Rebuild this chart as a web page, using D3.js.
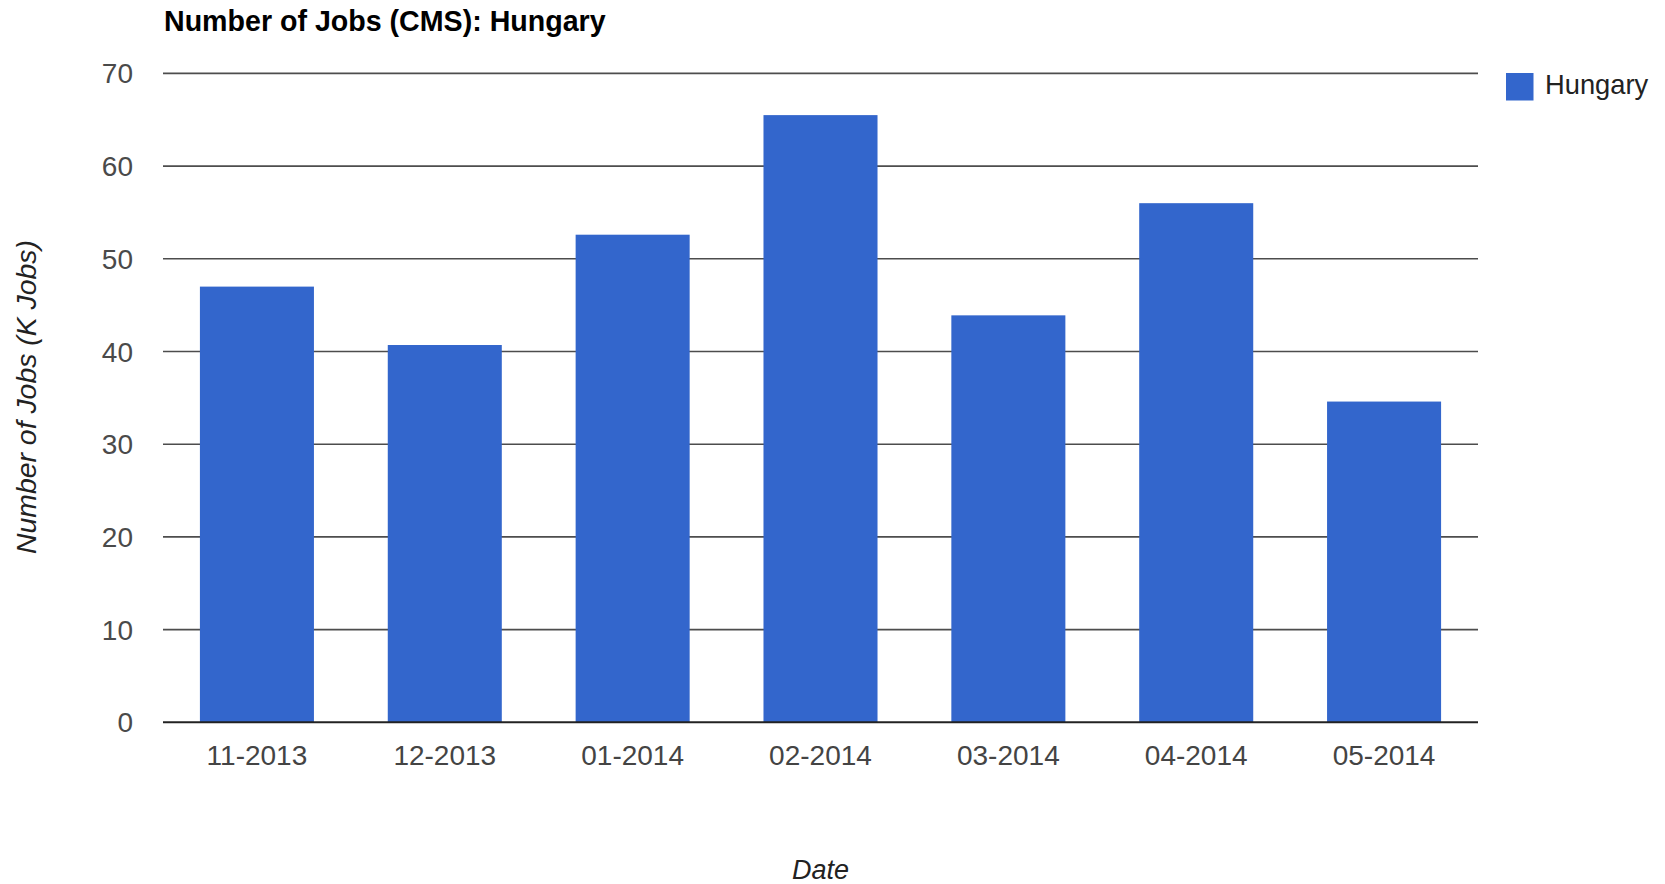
<!DOCTYPE html>
<html>
<head>
<meta charset="utf-8">
<script src="https://cdn.jsdelivr.net/npm/d3@7"></script>
<style>
  body { margin: 0; background: #fff; }
  svg { font-family: Arial, "Liberation Sans", sans-serif; }
</style>
</head>
<body>
<svg id="chart" width="1665" height="884"></svg>
<script>
// data
const months = ["11-2013", "12-2013", "01-2014", "02-2014", "03-2014", "04-2014", "05-2014"];
const jobs = [47.0, 40.7, 52.6, 65.5, 43.9, 56.0, 34.6];
const yTicks = [0, 10, 20, 30, 40, 50, 60, 70];
const seriesName = "Hungary";

const svg = d3.select("#chart");
const plotLeft = 163, plotRight = 1478, plotTop = 73.4, plotBottom = 722.3;

const x = d3.scaleBand()
  .domain(months)
  .range([plotLeft, plotRight])
  .paddingInner(0.393)
  .paddingOuter(0.1965);

const y = d3.scaleLinear()
  .domain([0, 70])
  .range([plotBottom, plotTop]);

// gridlines
svg.append("g")
  .selectAll("line")
  .data(yTicks.filter(d => d > 0))
  .enter()
  .append("line")
  .attr("x1", plotLeft)
  .attr("x2", plotRight)
  .attr("y1", d => y(d))
  .attr("y2", d => y(d))
  .attr("stroke", "#4d4d4d")
  .attr("stroke-width", 1.6);

// bars
svg.append("g")
  .selectAll("rect")
  .data(jobs)
  .enter()
  .append("rect")
  .attr("x", (d, i) => x(months[i]))
  .attr("y", d => y(d))
  .attr("width", x.bandwidth())
  .attr("height", d => y(0) - y(d))
  .attr("fill", "#3366cc");

// baseline
svg.append("line")
  .attr("x1", plotLeft)
  .attr("x2", plotRight)
  .attr("y1", y(0))
  .attr("y2", y(0))
  .attr("stroke", "#222")
  .attr("stroke-width", 2);

// y tick labels
svg.append("g")
  .selectAll("text")
  .data(yTicks)
  .enter()
  .append("text")
  .attr("x", 133)
  .attr("y", d => y(d))
  .attr("dy", "0.36em")
  .attr("text-anchor", "end")
  .attr("font-size", 28)
  .attr("fill", "#4a4a4a")
  .text(d => d);

// x tick labels
svg.append("g")
  .selectAll("text")
  .data(months)
  .enter()
  .append("text")
  .attr("x", d => x(d) + x.bandwidth() / 2)
  .attr("y", 765)
  .attr("text-anchor", "middle")
  .attr("font-size", 28)
  .attr("fill", "#444")
  .text(d => d);

// title
svg.append("text")
  .attr("x", 164)
  .attr("y", 30.5)
  .attr("font-size", 28.6)
  .attr("font-weight", "bold")
  .attr("fill", "#000")
  .text("Number of Jobs (CMS): Hungary");

// axis titles
svg.append("text")
  .attr("x", (plotLeft + plotRight) / 2)
  .attr("y", 879)
  .attr("text-anchor", "middle")
  .attr("font-size", 27)
  .attr("font-style", "italic")
  .attr("fill", "#222")
  .text("Date");

svg.append("text")
  .attr("transform", "translate(36,397) rotate(-90)")
  .attr("text-anchor", "middle")
  .attr("font-size", 28.4)
  .attr("font-style", "italic")
  .attr("fill", "#222")
  .text("Number of Jobs (K Jobs)");

// legend
const legend = svg.append("g").attr("transform", "translate(1506,73)");
legend.append("rect")
  .attr("width", 27.5)
  .attr("height", 27.5)
  .attr("fill", "#3366cc");
legend.append("text")
  .attr("x", 39)
  .attr("y", 20.5)
  .attr("font-size", 27.3)
  .attr("fill", "#222")
  .text(seriesName);
</script>
</body>
</html>
